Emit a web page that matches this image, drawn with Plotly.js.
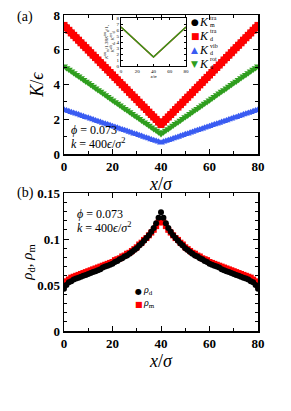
<!DOCTYPE html>
<html>
<head>
<meta charset="utf-8">
<script src="https://cdn.plot.ly/plotly-3.0.1.min.js"></script>
<style>html,body{margin:0;padding:0;background:#fff;}#plot{width:291px;height:411px;}</style>
</head>
<body>
<div id="plot"></div>
<script>
// ---------- data ----------
const xTop = [0,1,2,3,4,5,6,7,8,9,10,11,12,13,14,15,16,17,18,19,20,21,22,23,24,25,26,27,28,29,30,31,32,33,34,35,36,37,38,39,40,41,42,43,44,45,46,47,48,49,50,51,52,53,54,55,56,57,58,59,60,61,62,63,64,65,66,67,68,69,70,71,72,73,74,75,76,77,78,79,80];
const kmTra = [7.40,7.26,7.12,6.97,6.83,6.69,6.55,6.40,6.26,6.12,5.98,5.83,5.69,5.55,5.41,5.26,5.12,4.98,4.84,4.69,4.55,4.41,4.27,4.12,3.98,3.84,3.70,3.55,3.41,3.27,3.13,2.98,2.84,2.70,2.56,2.41,2.27,2.13,1.99,1.84,
  1.70,
  1.84,1.99,2.13,2.27,2.41,2.56,2.70,2.84,2.98,3.13,3.27,3.41,3.55,3.70,3.84,3.98,4.12,4.27,4.41,4.55,4.69,4.84,4.98,5.12,5.26,5.41,5.55,5.69,5.83,5.98,6.12,6.26,6.40,6.55,6.69,6.83,6.97,7.12,7.26,7.40];
const kdTra = [7.40,7.26,7.12,6.97,6.83,6.69,6.55,6.40,6.26,6.12,5.98,5.83,5.69,5.55,5.41,5.26,5.12,4.98,4.84,4.69,4.55,4.41,4.27,4.12,3.98,3.84,3.70,3.55,3.41,3.27,3.13,2.98,2.84,2.70,2.56,2.41,2.27,2.13,1.99,1.84,
  1.70,
  1.84,1.99,2.13,2.27,2.41,2.56,2.70,2.84,2.98,3.13,3.27,3.41,3.55,3.70,3.84,3.98,4.12,4.27,4.41,4.55,4.69,4.84,4.98,5.12,5.26,5.41,5.55,5.69,5.83,5.98,6.12,6.26,6.40,6.55,6.69,6.83,6.97,7.12,7.26,7.40];
const kdVib = [2.55,2.50,2.46,2.41,2.36,2.31,2.27,2.22,2.17,2.12,2.08,2.03,1.98,1.93,1.89,1.84,1.79,1.74,1.70,1.65,1.60,1.55,1.51,1.46,1.41,1.36,1.32,1.27,1.22,1.17,1.13,1.08,1.03,0.98,0.94,0.89,0.84,0.79,0.75,0.70,
  0.65,
  0.70,0.75,0.79,0.84,0.89,0.94,0.98,1.03,1.08,1.13,1.17,1.22,1.27,1.32,1.36,1.41,1.46,1.51,1.55,1.60,1.65,1.70,1.74,1.79,1.84,1.89,1.93,1.98,2.03,2.08,2.12,2.17,2.22,2.27,2.31,2.36,2.41,2.46,2.50,2.55];
const kdRot = [5.05,4.95,4.86,4.76,4.66,4.56,4.47,4.37,4.27,4.17,4.08,3.98,3.88,3.78,3.69,3.59,3.49,3.39,3.30,3.20,3.10,3.00,2.91,2.81,2.71,2.61,2.52,2.42,2.32,2.22,2.13,2.03,1.93,1.83,1.74,1.64,1.54,1.44,1.35,1.25,
  1.15,
  1.25,1.35,1.44,1.54,1.64,1.74,1.83,1.93,2.03,2.13,2.22,2.32,2.42,2.52,2.61,2.71,2.81,2.91,3.00,3.10,3.20,3.30,3.39,3.49,3.59,3.69,3.78,3.88,3.98,4.08,4.17,4.27,4.37,4.47,4.56,4.66,4.76,4.86,4.95,5.05];

const xInset = [0,10,20,30,40,50,60,70,80];
const insetTra = [6.5,5.25,4.0,2.75,1.5,2.75,4.0,5.25,6.5];
const insetRot = [6.5,5.25,4.0,2.75,1.5,2.75,4.0,5.25,6.5];

const xBot = [0,1,2,3,4,5,6,7,8,9,10,11,12,13,14,15,16,17,18,19,20,21,22,23,24,25,26,27,28,29,30,31,32,33,34,35,36,37,38,39,40,41,42,43,44,45,46,47,48,49,50,51,52,53,54,55,56,57,58,59,60,61,62,63,64,65,66,67,68,69,70,71,72,73,74,75,76,77,78,79,80];
const rhoD = [0.046,0.050,0.053,0.054,0.056,0.057,0.058,0.059,0.060,0.061,0.062,0.063,0.064,0.065,0.066,0.067,0.069,0.070,0.071,0.072,0.073,0.075,0.076,0.078,0.079,0.081,0.082,0.084,0.086,0.088,0.090,0.093,0.095,0.098,0.101,0.104,0.108,0.112,0.117,0.123,
  0.129,
  0.123,0.117,0.112,0.108,0.104,0.101,0.098,0.095,0.093,0.090,0.088,0.086,0.084,0.082,0.081,0.079,0.078,0.076,0.075,0.073,0.072,0.071,0.070,0.069,0.067,0.066,0.065,0.064,0.063,0.062,0.061,0.060,0.059,0.058,0.057,0.056,0.054,0.053,0.050,0.046];
const rhoM = [0.050,0.054,0.056,0.058,0.059,0.060,0.061,0.062,0.063,0.064,0.065,0.066,0.067,0.068,0.069,0.070,0.071,0.072,0.073,0.074,0.075,0.077,0.078,0.079,0.081,0.082,0.084,0.085,0.087,0.089,0.091,0.094,0.096,0.099,0.101,0.104,0.107,0.110,0.114,0.118,
  0.121,
  0.118,0.114,0.110,0.107,0.104,0.101,0.099,0.096,0.094,0.091,0.089,0.087,0.085,0.084,0.082,0.081,0.079,0.078,0.077,0.075,0.074,0.073,0.072,0.071,0.070,0.069,0.068,0.067,0.066,0.065,0.064,0.063,0.062,0.061,0.060,0.059,0.058,0.056,0.054,0.050];

const xTicks = [0,20,40,60,80];
const yTopTicks = [0,2,4,6,8];
const yBotTicks = [0,0.05,0.1,0.15];
const yBotTickText = ['0','0.05','0.1','0.15'];

// ---------- layout helpers ----------
const W = 291, H = 411;
const px = x => x / W;
const py = y => 1 - y / H;
const SERIF = 'Liberation Serif, DejaVu Serif, serif';
const RED = '#ff0000', BLUE = '#3a5cf2', GREEN = '#2f9e1e';

const mk = (sym, col, size) => ({symbol: sym, color: col, size: size, line: {width: 0}});

const traces = [
  {x: xTop, y: kmTra, type: 'scatter', mode: 'markers', name: 'K_m^tra', marker: mk('circle', '#000', 7), xaxis: 'x', yaxis: 'y'},
  {x: xTop, y: kdTra, type: 'scatter', mode: 'markers', name: 'K_d^tra', marker: mk('square', RED, 7), xaxis: 'x', yaxis: 'y'},
  {x: xTop, y: kdVib, type: 'scatter', mode: 'markers', name: 'K_d^vib', marker: mk('triangle-up', BLUE, 7), xaxis: 'x', yaxis: 'y'},
  {x: xTop, y: kdRot, type: 'scatter', mode: 'markers', name: 'K_d^rot', marker: mk('triangle-down', GREEN, 7), xaxis: 'x', yaxis: 'y'},
  {x: xInset, y: insetTra, type: 'scatter', mode: 'lines', line: {color: RED, width: 1.5}, xaxis: 'x3', yaxis: 'y3'},
  {x: xInset, y: insetRot, type: 'scatter', mode: 'lines', line: {color: GREEN, width: 1.5}, xaxis: 'x3', yaxis: 'y3'},
  {x: xBot, y: rhoM, type: 'scatter', mode: 'markers', name: 'rho_m', marker: mk('square', RED, 6), xaxis: 'x2', yaxis: 'y2'},
  {x: xBot, y: rhoD, type: 'scatter', mode: 'markers', name: 'rho_d', marker: mk('circle', '#000', 6), xaxis: 'x2', yaxis: 'y2'}
];

const axBase = {
  showline: true, linecolor: '#000', linewidth: 1.5, mirror: 'ticks',
  ticks: 'inside', ticklen: 5, tickwidth: 1, tickcolor: '#000',
  showgrid: false, zeroline: false, automargin: false,
  tickfont: {family: SERIF, size: 13, color: '#000', weight: 'bold'}
};

const xDom = [px(64), px(258)];
const layout = {
  width: W, height: H,
  margin: {l: 0, r: 0, t: 0, b: 0},
  paper_bgcolor: '#fff', plot_bgcolor: 'rgba(0,0,0,0)',
  showlegend: false,
  xaxis: Object.assign({}, axBase, {domain: xDom, anchor: 'y', range: [0, 80], tickvals: xTicks,
    minor: {dtick: 10, ticklen: 3, ticks: 'inside', tickcolor: '#000'},
    title: {text: '<i>x</i>/<i>σ</i>', font: {family: SERIF, size: 18, color: '#000'}, standoff: 0}}),
  yaxis: Object.assign({}, axBase, {domain: [py(154), py(15)], anchor: 'x', range: [0, 8], tickvals: yTopTicks,
    minor: {dtick: 1, ticklen: 3, ticks: 'inside', tickcolor: '#000'},
    title: {text: '<i>K</i>/<i>ϵ</i>', font: {family: SERIF, size: 18, color: '#000'}, standoff: 5}}),
  xaxis2: Object.assign({}, axBase, {domain: xDom, anchor: 'y2', range: [0, 80], tickvals: xTicks,
    minor: {dtick: 10, ticklen: 3, ticks: 'inside', tickcolor: '#000'},
    title: {text: '<i>x</i>/<i>σ</i>', font: {family: SERIF, size: 18, color: '#000'}, standoff: 0}}),
  yaxis2: Object.assign({}, axBase, {domain: [py(331), py(193)], anchor: 'x2', range: [0, 0.15],
    tickvals: yBotTicks, ticktext: yBotTickText,
    minor: {dtick: 0.01, ticklen: 3, ticks: 'inside', tickcolor: '#000'},
    title: {text: '<i>ρ</i><sub>d</sub>, <i>ρ</i><sub>m</sub>', font: {family: SERIF, size: 15, color: '#000'}, standoff: 0}}),
  xaxis3: Object.assign({}, axBase, {domain: [px(121), px(186)], anchor: 'y3', range: [0, 80], tickvals: xTicks,
    linewidth: 1, ticklen: 2, tickfont: {family: SERIF, size: 5, color: '#000'},
    title: {text: '<i>x</i>/<i>σ</i>', font: {family: SERIF, size: 5, color: '#000'}, standoff: 0}}),
  yaxis3: Object.assign({}, axBase, {domain: [py(66), py(18)], anchor: 'x3', range: [0, 8], dtick: 1,
    linewidth: 1, ticklen: 2, tickfont: {family: SERIF, size: 5, color: '#000'},
    title: {text: '<i>K</i><sup>tra</sup><sub>m</sub>/1.38<i>K</i><sup>tra</sup><sub>d</sub>/1,<br><i>K</i><sup>vib</sup><sub>d</sub>, <i>K</i><sup>rot</sup><sub>d</sub>', font: {family: SERIF, size: 5, color: '#000'}, standoff: 1}}),
  annotations: []
};

function ann(text, x, y, size, extra) {
  layout.annotations.push(Object.assign({
    text: text, x: px(x), y: py(y), xref: 'paper', yref: 'paper',
    showarrow: false, xanchor: 'left', yanchor: 'middle', borderpad: 0,
    font: {family: SERIF, size: size, color: '#000'}
  }, extra || {}));
}

// panel labels
ann('(a)', 16, 17, 14);
ann('(b)', 16, 193, 14);
// parameters
ann('<i>ϕ</i> = 0.073', 70, 130, 12);
ann('<i>k</i> = 400<i>ϵ</i>/<i>σ</i><sup>2</sup>', 70, 143, 12);
ann('<i>ϕ</i> = 0.073', 76, 214, 12);
ann('<i>k</i> = 400<i>ϵ</i>/<i>σ</i><sup>2</sup>', 76, 227, 12);

// legend (top)
const legRows = [
  {sym: '●', col: '#000', sup: 'tra', sub: 'm', y: 21},
  {sym: '■', col: RED, sup: 'tra', sub: 'd', y: 35},
  {sym: '▲', col: BLUE, sup: 'vib', sub: 'd', y: 49},
  {sym: '▼', col: GREEN, sup: 'rot', sub: 'd', y: 63}
];
legRows.forEach(r => {
  ann(r.sym, 190, r.y + 1, 9, {font: {family: 'DejaVu Sans', size: 9, color: r.col}});
  ann('<i>K</i>', 198, r.y + 1, 12);
  ann(r.sup, 209, r.y - 3.5, 6);
  ann(r.sub, 209, r.y + 4, 6);
});
// legend (bottom)
ann('●', 134, 291, 8, {font: {family: 'DejaVu Sans', size: 8, color: '#000'}});
ann('<i>ρ</i><sub>d</sub>', 142, 290, 10);
ann('■', 134, 304, 8, {font: {family: 'DejaVu Sans', size: 8, color: RED}});
ann('<i>ρ</i><sub>m</sub>', 142, 303, 10);

Plotly.newPlot('plot', traces, layout, {staticPlot: true, displayModeBar: false});
</script>
</body>
</html>
